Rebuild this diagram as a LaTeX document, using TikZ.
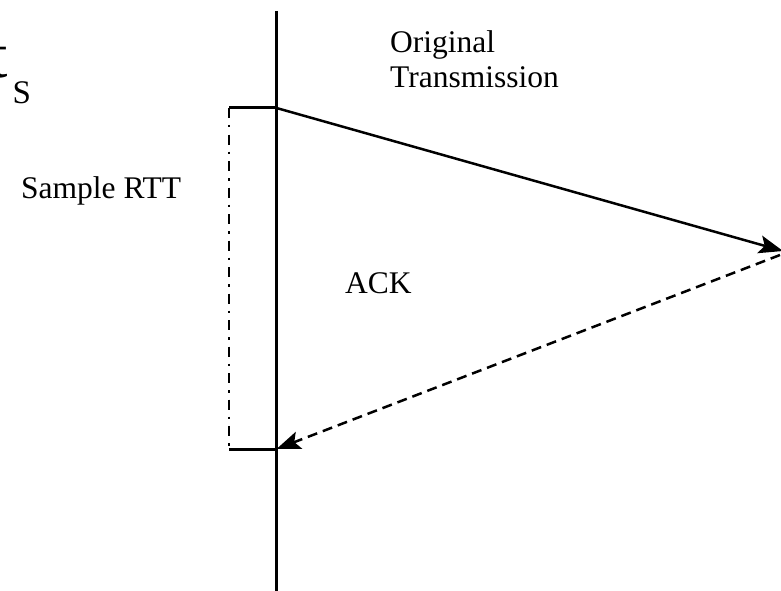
\documentclass[tikz,border=0pt]{standalone}
\usepackage{fontspec}
\setmainfont{Liberation Serif}
\usetikzlibrary{arrows.meta}
\begin{document}
\begin{tikzpicture}[x=1pt,y=-1pt,
  lbl/.style={anchor=base west,inner sep=0pt,font=\fontsize{31.5}{36}\selectfont},
  timeline/.style={line width=3.5pt},
  tick/.style={line width=3pt},
  msg/.style={line width=2.5pt,-{Stealth[length=24pt,width=18pt,inset=5pt]}},
  ackmsg/.style={line width=2.5pt,dash pattern=on 10pt off 6pt,-{Stealth[length=24pt,width=18pt,inset=5pt]}},
  rttline/.style={line width=2.5pt,dash pattern=on 10pt off 7pt on 2.5pt off 7pt}]
\useasboundingbox (0,0) rectangle (781,591);
% partially visible label t_S
\node[anchor=base east,inner sep=0pt,font=\fontsize{66}{68}\selectfont] (tlab) at (8,78) {t};
\node[anchor=base west,inner sep=0pt,font=\fontsize{33}{36}\selectfont] (slab) at (12.5,103) {S};
% coordinates
\coordinate (top) at (276.5,11);
\coordinate (bot) at (276.5,591);
\coordinate (send) at (276.5,108);
\coordinate (recv) at (276.5,449);
\coordinate (tl) at (229,108);
\coordinate (bl) at (229,449);
\coordinate (far) at (783,251);
\coordinate (far2) at (780,255);
% timeline
\draw[timeline] (top) -- (bot);
% RTT bracket
\draw[tick] (tl) -- (send);
\draw[tick] (bl) -- (recv);
\draw[rttline] (tl) -- (bl);
% messages
\draw[msg] (send) -- (far);
\draw[ackmsg] (far2) -- (recv);
% labels
\node[lbl] (orig) at (390,53) {Original};
\node[lbl] (trans) at (390,88) {Transmission};
\node[lbl] (rtt) at (21,198) {Sample RTT};
\node[lbl] (ack) at (345,293) {ACK};
\end{tikzpicture}
\end{document}
